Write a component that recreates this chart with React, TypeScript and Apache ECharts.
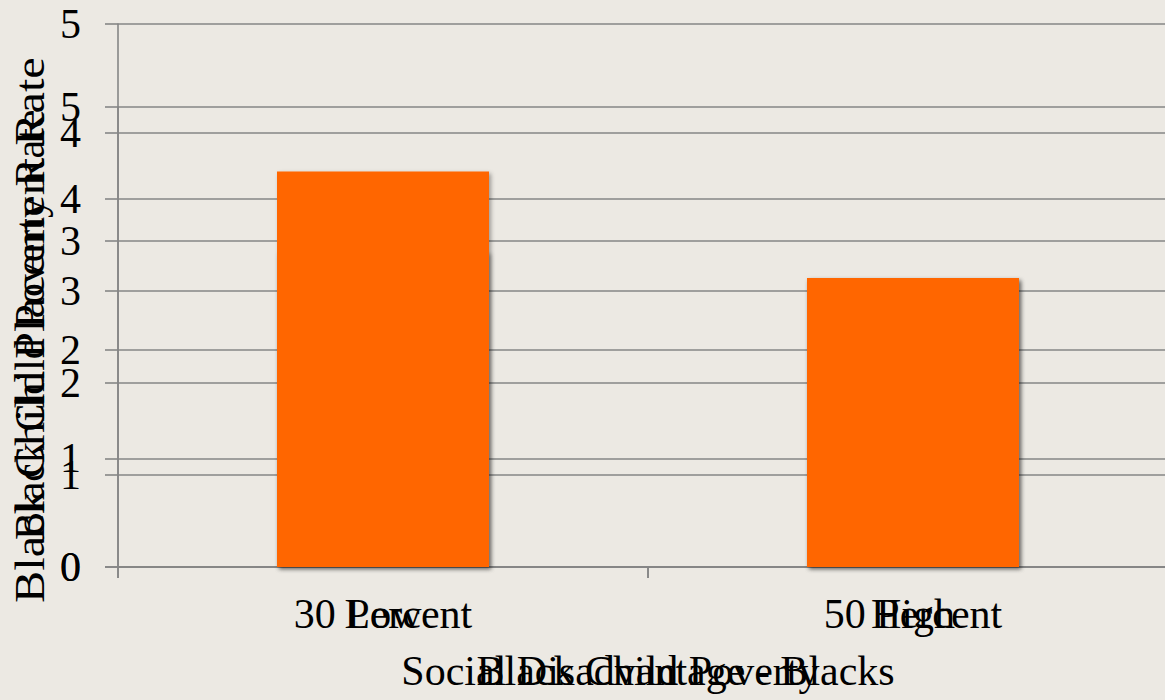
import { useEffect, useRef } from "react";
import * as echarts from "echarts";

// Categories and values for the two overlaid bar charts
const povertyLevels = ["30 Percent", "50 Percent"];
const disadvantageLevels = ["Low", "High"];
const placementByPoverty = [4.3, 3.14];
const placementByDisadvantage = [2.9, 2.65];

// Shared value-axis scale
const rateMin = 0;
const rateMax = 5;
const rateStep = 1;

// Axis titles
const povertyTitle = "Black Child Poverty";
const disadvantageTitle = "Social Disadvantage - Blacks";
const placementTitle = "Black Child Placement Rate";
const povertyRateTitle = "Black Child Poverty Rate";

const FONT = '"Liberation Serif", "Times New Roman", serif';
const LINE = "#868686";
const BAR = "#ff6600";
const PAPER = "#ece9e3";

function categoryAxis(gridIndex: number, data: string[], name: string) {
  return {
    type: "category" as const,
    gridIndex,
    data,
    name,
    nameLocation: "middle" as const,
    nameGap: 83,
    nameTextStyle: { fontFamily: FONT, fontSize: 42, color: "#000" },
    axisLine: { show: true, lineStyle: { color: LINE, width: 1.6 } },
    axisTick: { show: true, length: 11, lineStyle: { color: LINE, width: 1.6 } },
    axisLabel: { fontFamily: FONT, fontSize: 42, color: "#000", margin: 26 },
    splitLine: { show: false },
  };
}

function rateAxis(gridIndex: number) {
  return {
    type: "value" as const,
    gridIndex,
    min: rateMin,
    max: rateMax,
    interval: rateStep,
    axisLine: { show: true, lineStyle: { color: LINE, width: 1.6 } },
    axisTick: { show: true, length: 13, lineStyle: { color: LINE, width: 1.6 } },
    axisLabel: { fontFamily: FONT, fontSize: 42, color: "#000", margin: 37 },
    splitLine: { show: true, lineStyle: { color: LINE, width: 1.6 } },
  };
}

function barSeries(axisIndex: number, data: number[]) {
  return {
    type: "bar" as const,
    xAxisIndex: axisIndex,
    yAxisIndex: axisIndex,
    data,
    barWidth: "40%",
    itemStyle: {
      color: BAR,
      shadowColor: "rgba(0,0,0,0.35)",
      shadowBlur: 4,
      shadowOffsetX: 2,
      shadowOffsetY: 2,
    },
  };
}

export default function App() {
  const ref = useRef<HTMLDivElement>(null);

  useEffect(() => {
    if (!ref.current) return;
    const chart = echarts.init(ref.current, undefined, { renderer: "svg" });
    chart.setOption({
      animation: false,
      backgroundColor: "transparent",
      grid: [
        { left: 118, right: 2, top: 107, bottom: 133 },
        { left: 118, right: 2, top: 24, bottom: 133 },
      ],
      xAxis: [
        categoryAxis(0, povertyLevels, povertyTitle),
        categoryAxis(1, disadvantageLevels, disadvantageTitle),
      ],
      yAxis: [rateAxis(0), rateAxis(1)],
      series: [
        barSeries(1, placementByDisadvantage),
        barSeries(0, placementByPoverty),
      ],
      graphic: [
        {
          type: "text",
          x: 30,
          y: 603,
          rotation: Math.PI / 2,
          scaleX: 1.15,
          style: {
            text: placementTitle,
            fontFamily: FONT,
            fontSize: 42,
            fill: "#000",
            align: "left",
            verticalAlign: "middle",
          },
        },
        {
          type: "text",
          x: 30,
          y: 540,
          rotation: Math.PI / 2,
          style: {
            text: povertyRateTitle,
            fontFamily: FONT,
            fontSize: 42,
            fill: "#000",
            align: "left",
            verticalAlign: "middle",
          },
        },
      ],
    });
    return () => chart.dispose();
  }, []);

  return (
    <div
      style={{
        position: "fixed",
        left: 0,
        top: 0,
        width: 1165,
        height: 700,
        overflow: "hidden",
        background: PAPER,
      }}
    >
      <div ref={ref} style={{ width: 1180, height: 700 }} />
    </div>
  );
}
